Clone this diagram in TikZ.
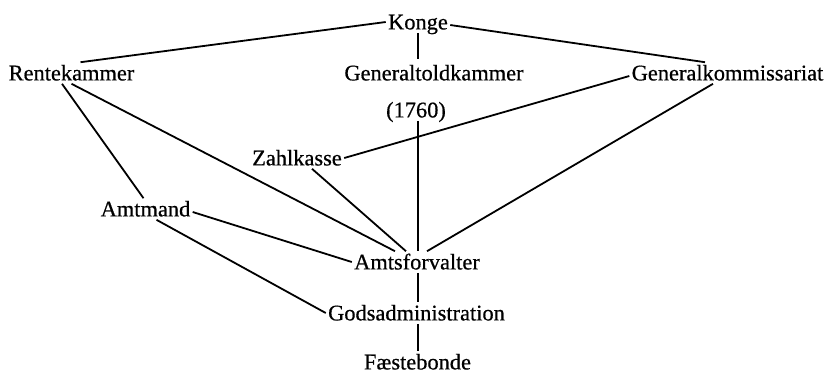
\documentclass[tikz,border=0pt]{standalone}
\usepackage{fontspec}
\setmainfont{Liberation Serif}[BoldFont=Liberation Serif, BoldFeatures={FakeBold=0.6}]
\usetikzlibrary{calc}
\begin{document}
\begin{tikzpicture}[x=0.5pt, y=-0.5pt,
  lbl/.style={inner xsep=1pt, inner ysep=1.5pt, text height=7.4pt, text depth=0pt,
              font=\fontsize{11.2}{13}\selectfont\bfseries},
  link/.style={line width=0.9pt}]
  \useasboundingbox (0,0) rectangle (829,372);

  % offices
  \node[lbl] (konge)  at (418,22)   {Konge};
  \node[lbl] (rente)  at (71.5,73)  {Rentekammer};
  \node[lbl] (gtk)    at (434,73)   {Generaltoldkammer};
  \node[lbl] (year)   at (416,110)  {(1760)};
  \node[lbl] (genkom) at (727.5,73) {Generalkommissariat};
  \node[lbl] (zahl)   at (297,158)  {Zahlkasse};
  \node[lbl] (amtm)   at (145.5,209){Amtmand};
  \node[lbl] (amtsf)  at (417,262)  {Amtsforvalter};
  \node[lbl] (gods)   at (416.5,313){Godsadministration};
  \node[lbl] (faeste) at (417.5,362){Fæstebonde};

  % lines of authority
  \draw[link] (konge.west) -- ($(rente.north)+(9,0)$);
  \draw[link] ($(konge.east)+(0,3)$) -- ($(genkom.north)+(-22.5,0)$);
  \draw[link] (konge.south) -- ($(konge.south |- gtk.north)+(0,-3)$);
  \draw[link] ($(year.south)+(2,0)$) -- ($(year.south |- amtsf.north)+(2,0)$);
  \draw[link] ($(rente.south)+(-9.5,0)$) -- ($(amtm.north)+(-2,0)$);
  \draw[link] (rente.south) -- ($(amtsf.north)+(-22,0)$);
  \draw[link] ($(zahl.south)+(15,0)$) -- ($(amtsf.north)+(-11,0)$);
  \draw[link] (zahl.east) -- ($(genkom.west)+(0,3)$);
  \draw[link] ($(genkom.south)+(-14.5,0)$) -- ($(amtsf.north)+(10,0)$);
  \draw[link] ($(amtm.east)+(0,3)$) -- (amtsf.west);
  \draw[link] ($(amtm.south)+(11,0)$) -- (gods.west);
  \draw[link] ($(amtsf.south)+(1,0)$) -- ($(amtsf.south |- gods.north)+(1,0)$);
  \draw[link] ($(gods.south)+(1.5,0)$) -- ($(gods.south |- faeste.north)+(1.5,0)$);
\end{tikzpicture}
\end{document}
